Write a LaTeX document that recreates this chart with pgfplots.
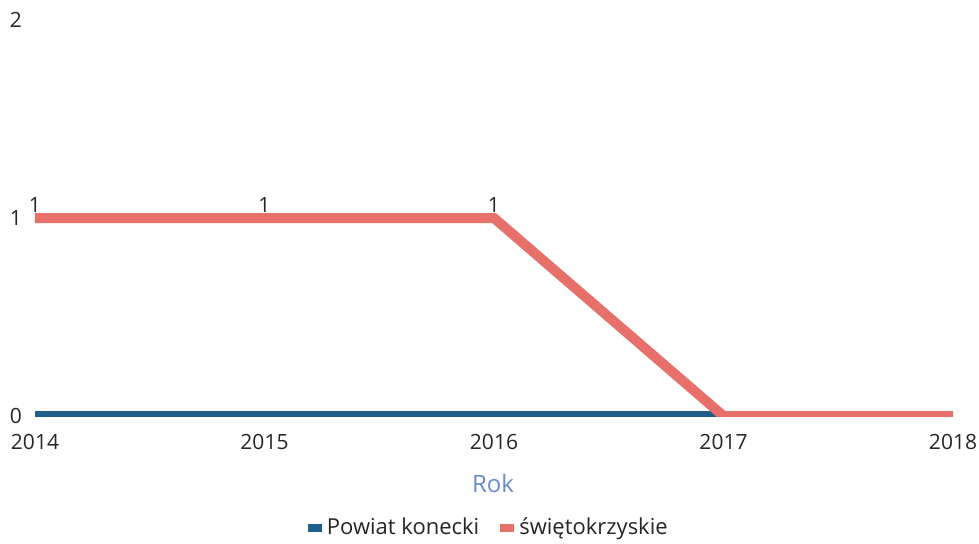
\documentclass[border=0pt]{standalone}
\usepackage{fontspec}
\setmainfont{Open Sans}
\usepackage{pgfplots}
\pgfplotsset{compat=1.18}

\definecolor{powiat}{HTML}{1F5F8B}
\definecolor{woj}{HTML}{E8706A}
\definecolor{roklabel}{HTML}{6B8AC9}

\begin{document}
\begin{tikzpicture}
\path[use as bounding box] (-17.5pt,-63.5pt) rectangle (472pt,208pt);
\begin{axis}[
  at={(0,0)}, anchor=south west,
  scale only axis,
  width=459pt, height=198pt,
  xmin=2014, xmax=2018, ymin=0, ymax=2,
  xtick={2014,2015,2016,2017,2018},
  ytick={0,1,2},
  axis line style={draw=none},
  tick style={draw=none},
  /pgf/number format/assume math mode=true,
  /pgf/number format/1000 sep={},
  ticklabel style={font=\fontsize{10.5}{12}\selectfont, text=black!85},
  xticklabel style={anchor=center, yshift=-13pt},
  yticklabel style={anchor=center, xshift=-9.5pt},
  xlabel={Rok},
  xlabel style={at={(axis description cs:0.499,-0.17)}, anchor=center,
    font=\fontsize{12}{14}\selectfont, text=roklabel},
  clip=true, clip mode=individual,
  legend columns=2,
  legend style={at={(0.496,-0.282)}, anchor=center, draw=none,
    font=\fontsize{11}{13}\selectfont, text=black!85,
    nodes={inner sep=2.5pt},
    /tikz/every even column/.append style={column sep=8pt}},
  legend image code/.code={\fill[#1, draw=none, line width=0pt] (0pt,-2pt) rectangle (7pt,2pt);},
]
\addplot[color=powiat, line width=5pt] coordinates {
  (2014,0) (2015,0) (2016,0) (2017,0) (2018,0)
};
\addlegendentry{Powiat konecki}
\addplot[color=woj, line width=5pt] coordinates {
  (2014,1) (2015,1) (2016,1) (2017,0) (2018,0)
};
\addlegendentry{świętokrzyskie}
\addplot[draw=none, forget plot, nodes near coords, point meta=explicit symbolic,
  every node near coord/.style={anchor=south, inner sep=0pt, yshift=2.5pt,
    font=\fontsize{10.5}{12}\selectfont, text=black!85}]
  coordinates {(2014,1)[1] (2015,1)[1] (2016,1)[1]};
\end{axis}
\end{tikzpicture}
\end{document}
